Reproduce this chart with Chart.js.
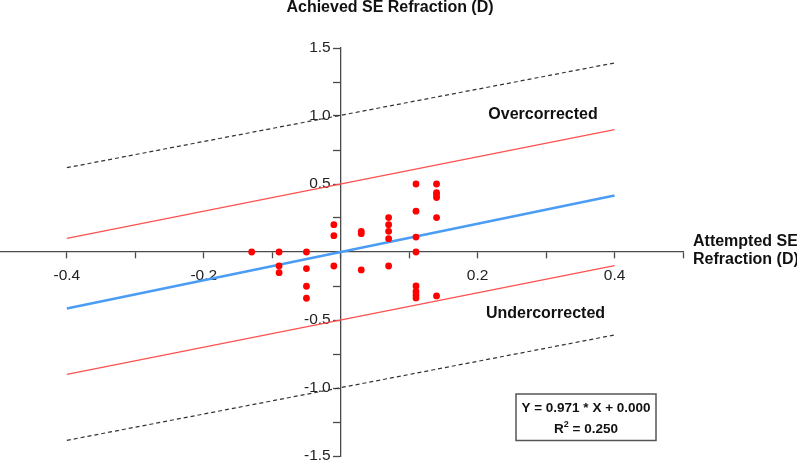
<!DOCTYPE html>
<html>
<head>
<meta charset="utf-8">
<script src="https://cdn.jsdelivr.net/npm/chart.js@4/dist/chart.umd.min.js"></script>
<style>
  html, body { margin: 0; padding: 0; background: #fff; overflow: hidden; }
  /* el lienzo se corre 5px a la izquierda para que el eje X empiece en el borde */
  #wrap { width: 802px; height: 463px; position: relative; margin-left: -5px; }
</style>
</head>
<body>
<div id="wrap"><canvas id="grafica"></canvas></div>
<script>
// datos
const attempted = [
    -0.13,
    -0.09, -0.09, -0.09,
    -0.05, -0.05, -0.05, -0.05,
    -0.01, -0.01, -0.01,
    0.03, 0.03, 0.03,
    0.07, 0.07, 0.07, 0.07, 0.07,
    0.11, 0.11, 0.11, 0.11, 0.11, 0.11, 0.11, 0.11,
    0.14, 0.14, 0.14, 0.14, 0.14, 0.14
];
const achieved = [
    0,
    0, -0.103, -0.152,
    0, -0.122, -0.252, -0.34,
    0.201, 0.12, -0.103,
    0.152, 0.135, -0.132,
    0.253, 0.201, 0.152, 0.098, -0.103,
    0.5, 0.30, 0.11, 0, -0.25, -0.29, -0.315, -0.338,
    0.5, 0.437, 0.42, 0.40, 0.253, -0.323
];

// lineas de referencia (extremos en x = -0.4 y 0.4)
const lineX = [-0.4, 0.4];
const regressionY = [-0.415, 0.415];
const overLimitY = [0.1, 0.9];
const underLimitY = [-0.9, -0.1];
const upperBoundY = [0.62, 1.39];
const lowerBoundY = [-1.385, -0.61];

const xTickLabels = [-0.4, -0.2, 0.2, 0.4];
const yTickLabels = [-1.5, -1.0, -0.5, 0.5, 1.0, 1.5];

const FONT = "'Liberation Sans', Arial, Helvetica, sans-serif";
const DESPLAZ = 5;

function puntos(xs, ys) {
    return xs.map((x, i) => ({ x: x, y: ys[i] }));
}

function linea(ys, color, width, dash) {
    return {
        data: puntos(lineX, ys),
        showLine: true,
        borderColor: color,
        backgroundColor: color,
        borderWidth: width,
        borderDash: dash || [],
        pointRadius: 0,
        pointHoverRadius: 0
    };
}

function mostrar(lista) {
    return function (value) {
        const v = Math.round(value * 100) / 100;
        return lista.some(t => Math.abs(t - v) < 1e-6) ? v.toFixed(1) : '';
    };
}

// quitar el relleno que Chart.js reserva para las etiquetas de los extremos
function sinRelleno(scale) {
    scale.paddingLeft = 0;
    scale.paddingRight = 0;
    scale.paddingTop = 0;
    scale.paddingBottom = 0;
}

// textos del grafico (coordenadas de pantalla)
const textos = {
    id: 'textos',
    afterDraw(chart) {
        const ctx = chart.ctx;
        ctx.save();
        ctx.translate(DESPLAZ, 0);
        ctx.fillStyle = '#111';
        ctx.textBaseline = 'alphabetic';

        ctx.font = 'bold 16px ' + FONT;
        ctx.textAlign = 'center';
        ctx.fillText('Achieved SE Refraction (D)', 390, 12);
        ctx.fillText('Overcorrected', 543, 119);
        ctx.fillText('Undercorrected', 545.5, 318);

        ctx.textAlign = 'left';
        ctx.fillText('Attempted SE', 693, 246);
        ctx.fillText('Refraction (D)', 693, 264);

        // caja de la ecuacion
        ctx.strokeStyle = '#555';
        ctx.lineWidth = 1.5;
        ctx.strokeRect(516, 394, 140, 46.5);

        ctx.font = 'bold 13.5px ' + FONT;
        ctx.textAlign = 'center';
        ctx.fillText('Y = 0.971 * X + 0.000', 586, 411.5);

        ctx.textAlign = 'left';
        const big = 'bold 13.5px ' + FONT;
        const small = 'bold 9px ' + FONT;
        ctx.font = big;
        const wR = ctx.measureText('R').width;
        const wRest = ctx.measureText(' = 0.250').width;
        ctx.font = small;
        const w2 = ctx.measureText('2').width;
        let x0 = 586 - (wR + w2 + wRest) / 2;
        ctx.font = big;
        ctx.fillText('R', x0, 432.5);
        ctx.font = small;
        ctx.fillText('2', x0 + wR, 427);
        ctx.font = big;
        ctx.fillText(' = 0.250', x0 + wR + w2, 432.5);
        ctx.restore();
    }
};

const ctx = document.getElementById('grafica').getContext('2d');

const grafica = new Chart(ctx, {
    type: 'scatter',
    data: {
        datasets: [
            {
                data: puntos(attempted, achieved),
                backgroundColor: '#ff0000',
                borderColor: '#ff0000',
                borderWidth: 0,
                pointRadius: 3.4,
                pointHoverRadius: 3.4
            },
            linea(regressionY, '#4a9cf5', 2.5),
            linea(overLimitY, '#ff5050', 1.2),
            linea(underLimitY, '#ff5050', 1.2),
            linea(upperBoundY, '#333', 1.2, [4, 3]),
            linea(lowerBoundY, '#333', 1.2, [4, 3])
        ]
    },
    options: {
        responsive: true,
        maintainAspectRatio: false,
        animation: false,
        layout: {
            padding: { left: 0, right: 114, top: 48, bottom: 7 }
        },
        plugins: {
            legend: { display: false },
            tooltip: { enabled: false }
        },
        scales: {
            x: {
                type: 'linear',
                min: -0.5,
                max: 0.5,
                position: { y: 0 },
                afterFit: sinRelleno,
                border: { color: '#4a4a4a', width: 1.3 },
                grid: {
                    drawOnChartArea: false,
                    drawTicks: true,
                    tickLength: 6,
                    tickColor: '#4a4a4a',
                    tickWidth: 1.3
                },
                ticks: {
                    stepSize: 0.1,
                    autoSkip: false,
                    maxRotation: 0,
                    padding: 8,
                    color: '#222',
                    font: { family: FONT, size: 15.5 },
                    callback: mostrar(xTickLabels)
                }
            },
            y: {
                type: 'linear',
                min: -1.5,
                max: 1.5,
                position: 'center',
                afterFit: sinRelleno,
                border: { color: '#4a4a4a', width: 1.3 },
                grid: {
                    drawOnChartArea: false,
                    drawTicks: true,
                    tickLength: 7,
                    tickColor: '#4a4a4a',
                    tickWidth: 1.3
                },
                ticks: {
                    stepSize: 0.25,
                    autoSkip: false,
                    padding: 3,
                    color: '#222',
                    font: { family: FONT, size: 15.5 },
                    callback: mostrar(yTickLabels)
                }
            }
        }
    },
    plugins: [textos]
});
</script>
</body>
</html>
